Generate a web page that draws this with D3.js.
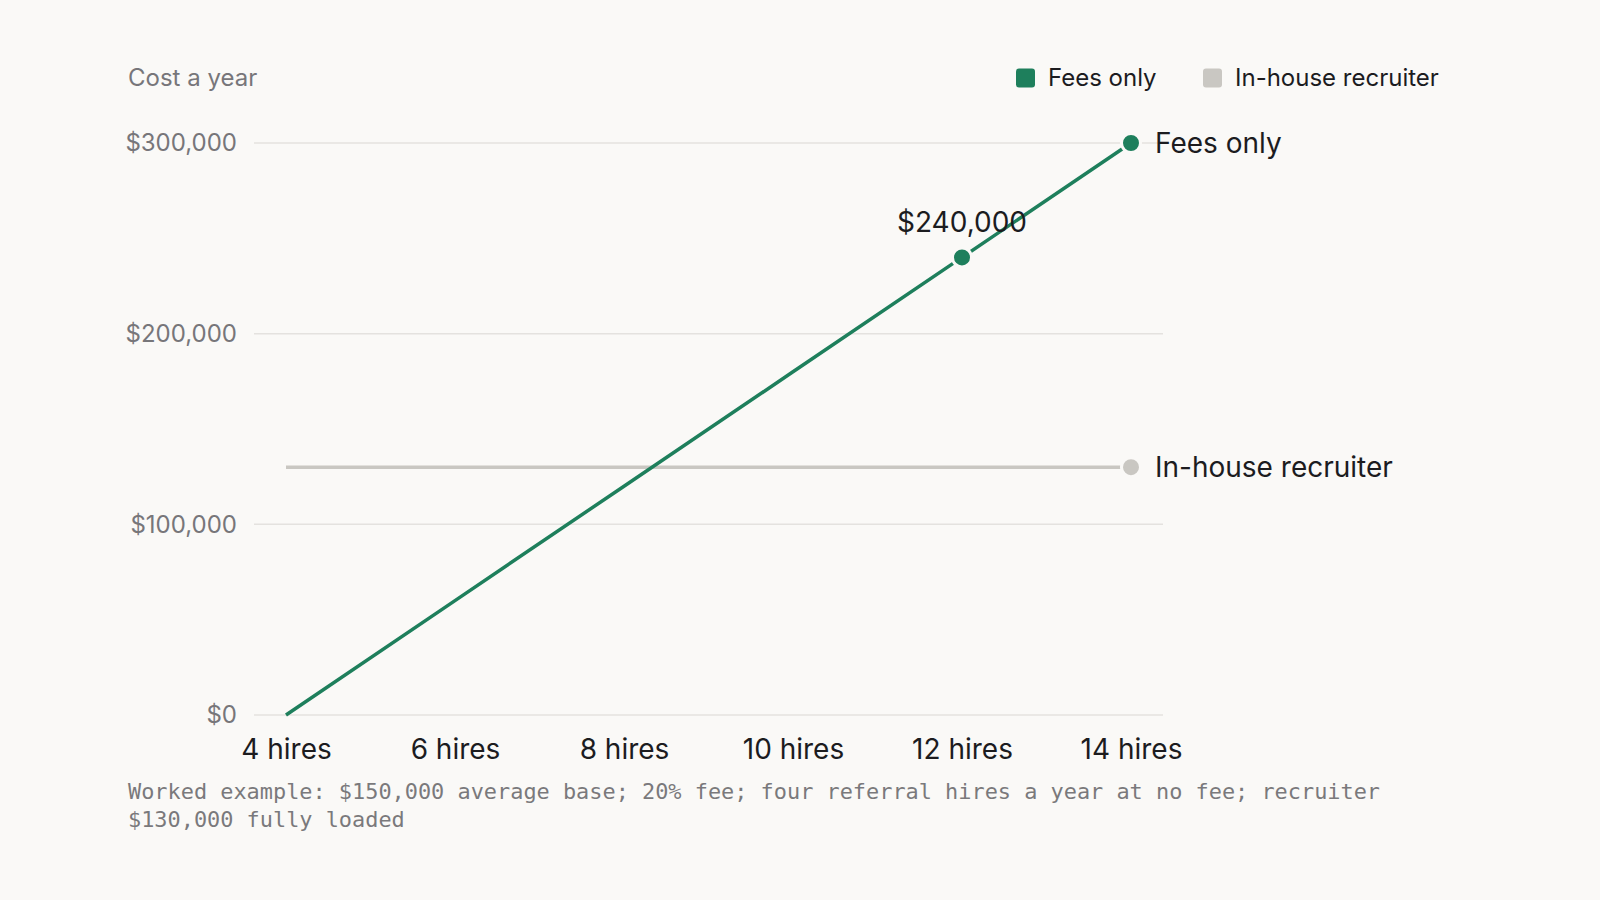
<!DOCTYPE html>
<html>
<head>
<meta charset="utf-8">
<script src="https://cdn.jsdelivr.net/npm/d3@7"></script>
<style>
  html, body { margin: 0; padding: 0; background: #faf9f7; }
  svg { display: block; }
</style>
</head>
<body>
<div class="chart"></div>
<script>
// Data
var hires = [4, 6, 8, 10, 12, 14];
var feesOnly = [0, 60000, 120000, 180000, 240000, 300000];
var inHouse = [130000, 130000, 130000, 130000, 130000, 130000];
var yTicks = [0, 100000, 200000, 300000];
var seriesNames = ["Fees only", "In-house recruiter"];
var highlightHire = 12;
var footLines = [
  "Worked example: $150,000 average base; 20% fee; four referral hires a year at no fee; recruiter",
  "$130,000 fully loaded"
];

var w = 1600, h = 900;
var bg = "#faf9f7";
var green = "#1e7f5c";
var grey = "#c9c7c2";

// Plot area (named so they don't clash with window.top)
var plotLeft = 254, plotRight = 1163, plotTop = 143, plotBottom = 715;

var svg = d3.select(".chart")
            .append("svg")
            .attr("width", w)
            .attr("height", h)
            .style("background", bg)
            .style("font-family", "Inter, 'Noto Sans', sans-serif");

var x = d3.scaleLinear()
          .domain([4, 14])
          .range([plotLeft + 32, plotRight - 32]);

var y = d3.scaleLinear()
          .domain([0, 300000])
          .range([plotBottom, plotTop]);

var money = d3.format("$,");

// Gridlines
svg.append("g")
   .selectAll("line")
   .data(yTicks)
   .enter()
   .append("line")
   .attr("x1", plotLeft)
   .attr("x2", plotRight)
   .attr("y1", function(d){ return y(d); })
   .attr("y2", function(d){ return y(d); })
   .attr("stroke", "#e4e2df")
   .attr("stroke-width", 1.5);

// Y axis labels
var yAxis = d3.axisLeft(y)
              .tickValues(yTicks)
              .tickFormat(money)
              .tickSize(0)
              .tickPadding(17);

svg.append("g")
   .attr("transform", "translate(" + plotLeft + ",0)")
   .call(yAxis)
   .call(function(g){ g.select(".domain").remove(); })
   .selectAll("text")
   .attr("fill", "#77767a")
   .style("font-size", "24px")
   .style("font-family", "Inter, sans-serif");

// X axis labels
var xAxis = d3.axisBottom(x)
              .tickValues(hires)
              .tickFormat(function(d){ return d + " hires"; })
              .tickSize(0)
              .tickPadding(24);

svg.append("g")
   .attr("transform", "translate(0," + plotBottom + ")")
   .call(xAxis)
   .call(function(g){ g.select(".domain").remove(); })
   .selectAll("text")
   .attr("fill", "#1c1c1f")
   .style("font-size", "28px")
   .style("font-family", "Inter, sans-serif");

// Axis title
svg.append("text")
   .attr("x", 128)
   .attr("y", 78)
   .attr("dy", "0.35em")
   .attr("fill", "#77767a")
   .style("font-size", "24px")
   .text("Cost a year");

// Lines
var line = d3.line()
             .x(function(d){ return x(d[0]); })
             .y(function(d){ return y(d[1]); });

var inHouseData = d3.zip(hires, inHouse);
var feesData = d3.zip(hires, feesOnly);

svg.append("path")
   .datum(inHouseData)
   .attr("d", line)
   .attr("fill", "none")
   .attr("stroke", grey)
   .attr("stroke-width", 3.5);

svg.append("path")
   .datum(feesData)
   .attr("d", line)
   .attr("fill", "none")
   .attr("stroke", green)
   .attr("stroke-width", 3.5);

// End dots and highlight dot
var lastIn = inHouseData[inHouseData.length - 1];
var lastFee = feesData[feesData.length - 1];
var hi = feesData[hires.indexOf(highlightHire)];

var dots = [
  {p: lastIn, c: grey},
  {p: lastFee, c: green},
  {p: hi, c: green}
];

svg.append("g")
   .selectAll("circle")
   .data(dots)
   .enter()
   .append("circle")
   .attr("cx", function(d){ return x(d.p[0]); })
   .attr("cy", function(d){ return y(d.p[1]); })
   .attr("r", 9.5)
   .attr("fill", function(d){ return d.c; })
   .attr("stroke", bg)
   .attr("stroke-width", 3);

// Highlight label
svg.append("text")
   .attr("x", x(hi[0]))
   .attr("y", y(hi[1]) - 35)
   .attr("dy", "0.35em")
   .attr("text-anchor", "middle")
   .attr("fill", "#1c1c1f")
   .style("font-size", "28px")
   .text(money(hi[1]));

// Line end labels
svg.append("g")
   .selectAll("text")
   .data([lastFee, lastIn])
   .enter()
   .append("text")
   .attr("x", function(d){ return x(d[0]) + 24; })
   .attr("y", function(d){ return y(d[1]); })
   .attr("dy", "0.35em")
   .attr("fill", "#1c1c1f")
   .style("font-size", "28px")
   .text(function(d, i){ return seriesNames[i]; });

// Legend
var legendX = [1016, 1203];
var legend = svg.append("g")
                .selectAll("g")
                .data(seriesNames)
                .enter()
                .append("g")
                .attr("transform", function(d, i){ return "translate(" + legendX[i] + ",78)"; });

legend.append("rect")
      .attr("x", 0)
      .attr("y", -9.5)
      .attr("width", 19)
      .attr("height", 19)
      .attr("rx", 3)
      .attr("fill", function(d, i){ return i == 0 ? green : grey; });

legend.append("text")
      .attr("x", 32)
      .attr("y", 0)
      .attr("dy", "0.35em")
      .attr("fill", "#1c1c1f")
      .style("font-size", "24px")
      .text(function(d){ return d; });

// Footnote
svg.append("text")
   .attr("x", 128)
   .attr("y", 791)
   .attr("fill", "#7a797c")
   .style("font-family", "'DejaVu Sans Mono', monospace")
   .style("font-size", "21.9px")
   .selectAll("tspan")
   .data(footLines)
   .enter()
   .append("tspan")
   .attr("x", 128)
   .attr("dy", function(d, i){ return i == 0 ? "0.35em" : 28; })
   .text(function(d){ return d; });
</script>
</body>
</html>
